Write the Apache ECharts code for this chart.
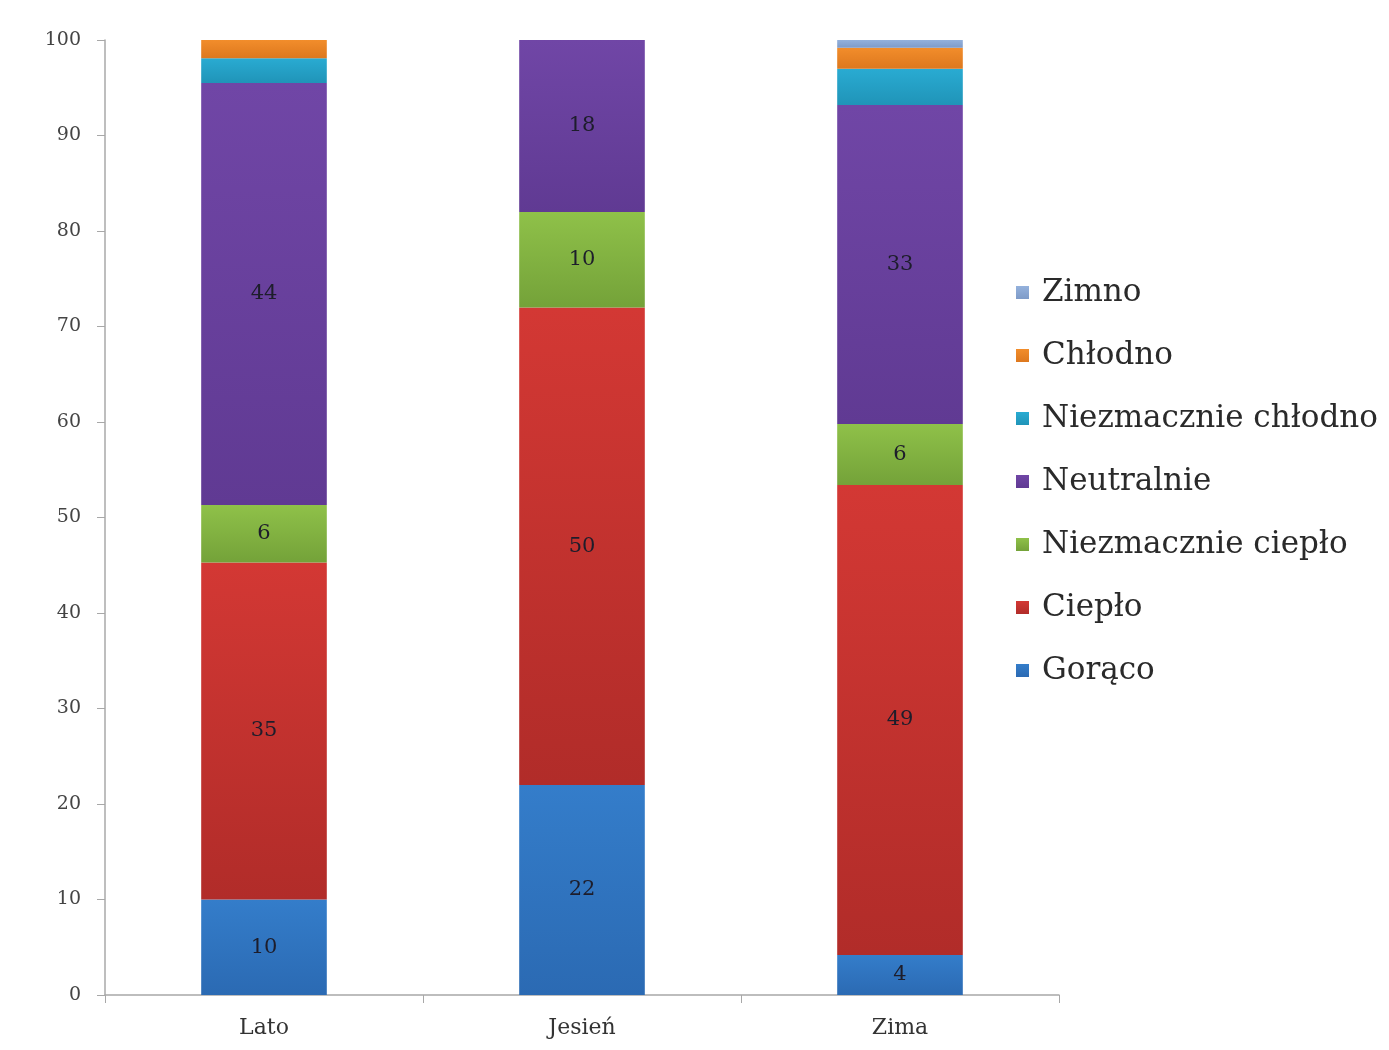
<!DOCTYPE html>
<html>
<head>
<meta charset="utf-8">
<script src="https://cdn.jsdelivr.net/npm/echarts@6/dist/echarts.min.js"></script>
<style>html,body{margin:0;padding:0;background:#fff;}#c{width:1389px;height:1050px;}</style>
</head>
<body>
<div id="c"></div>
<script>
const categories = ['Lato', 'Jesień', 'Zima'];
const seriesNames = ['Gorąco', 'Ciepło', 'Niezmacznie ciepło', 'Neutralnie', 'Niezmacznie chłodno', 'Chłodno', 'Zimno'];
const goraco = [10, 22, 4.2];
const cieplo = [35.3, 50, 49.2];
const nieznCieplo = [6, 10, 6.4];
const neutralnie = [44.2, 18, 33.4];
const nieznChlodno = [2.6, 0, 3.8];
const chlodno = [1.9, 0, 2.2];
const zimno = [0, 0, 0.8];
const yTicks = [0, 10, 20, 30, 40, 50, 60, 70, 80, 90, 100];

const values = [goraco, cieplo, nieznCieplo, neutralnie, nieznChlodno, chlodno, zimno];
const topColors = ['#347dca', '#d33834', '#8fc149', '#7046a6', '#29abd2', '#f28d2b', '#94b1dc'];
const bottomColors = ['#2b6ab3', '#b12c29', '#74a239', '#603a93', '#2094b8', '#dd781e', '#7e9bc8'];
const showLabel = [true, true, true, true, false, false, false];

function grad(i) {
  return new echarts.graphic.LinearGradient(0, 0, 0, 1, [
    {offset: 0, color: topColors[i]},
    {offset: 1, color: bottomColors[i]}
  ]);
}

const FONT = 'DejaVu Serif';
const chart = echarts.init(document.getElementById('c'), null, {renderer: 'canvas'});
chart.setOption({
  backgroundColor: '#ffffff',
  animation: false,
  textStyle: {fontFamily: FONT},
  grid: {left: 105, right: 330, top: 40, bottom: 55, containLabel: false},
  legend: {
    orient: 'vertical',
    left: 1011,
    top: 272,
    itemWidth: 13,
    itemHeight: 13,
    itemGap: 32,
    icon: 'rect',
    data: seriesNames.slice().reverse(),
    textStyle: {fontFamily: FONT, fontSize: 31, color: '#2a2a2a', padding: [0, 0, 0, 8]}
  },
  xAxis: {
    type: 'category',
    data: categories,
    axisLine: {lineStyle: {color: '#a8a8a8', width: 1.5}},
    axisTick: {show: true, length: 8, lineStyle: {color: '#a8a8a8'}},
    axisLabel: {fontFamily: FONT, fontSize: 22, color: '#333', margin: 22}
  },
  yAxis: {
    type: 'value',
    min: 0, max: 100, interval: 10,
    axisLine: {show: true, lineStyle: {color: '#a8a8a8', width: 1.5}},
    axisTick: {show: true, length: 8, lineStyle: {color: '#a8a8a8'}},
    splitLine: {show: false},
    axisLabel: {fontFamily: FONT, fontSize: 19, color: '#444', margin: 24,
      formatter: v => yTicks.includes(v) ? String(v) : ''}
  },
  series: seriesNames.map((name, i) => ({
    name: name,
    type: 'bar',
    stack: 'total',
    barWidth: '39.5%',
    data: values[i],
    itemStyle: {color: grad(i)},
    label: {
      show: showLabel[i],
      position: 'inside',
      fontFamily: FONT,
      fontSize: 21,
      color: '#1d1d2b',
      formatter: p => p.value > 0 ? String(Math.round(p.value)) : ''
    },
    emphasis: {disabled: true}
  }))
});
</script>
</body>
</html>
